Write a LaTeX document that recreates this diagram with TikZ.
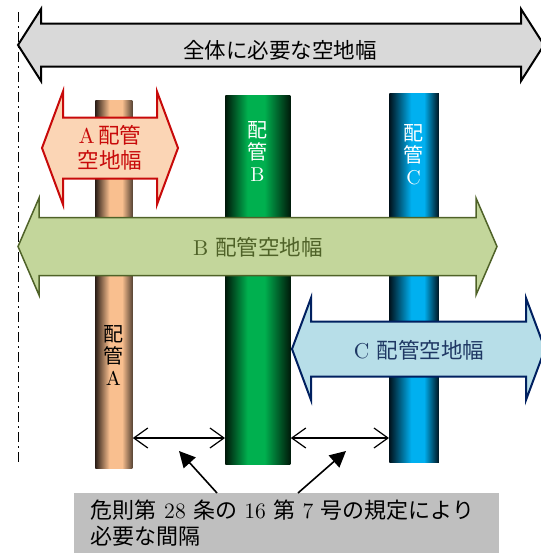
\documentclass[tikz,border=0pt]{standalone}
\usepackage{fontspec}
\usepackage{tikz}
\usetikzlibrary{arrows.meta,calc}
\usepackage{xcolor}

\newfontfamily\jpfont{Noto Sans CJK JP}
\newcommand{\jp}[1]{{\jpfont #1}}

\definecolor{totalfill}{HTML}{D9D9D9}
\definecolor{Afill}{HTML}{FBD5B5}
\definecolor{Aline}{HTML}{C80A0A}
\definecolor{Bfill}{HTML}{C3D69B}
\definecolor{Bline}{HTML}{4F6228}
\definecolor{Cfill}{HTML}{B7DEE8}
\definecolor{Cline}{HTML}{002060}
\definecolor{Ctext}{HTML}{1F3864}
\definecolor{pipeAdark}{HTML}{2E2018}
\definecolor{pipeAedge}{HTML}{5A4636}
\definecolor{pipeAlight}{HTML}{F9BF8F}
\definecolor{pipeBdark}{HTML}{001A0A}
\definecolor{pipeBlight}{HTML}{00B04F}
\definecolor{pipeCdark}{HTML}{00131E}
\definecolor{pipeClight}{HTML}{00B0F0}
\definecolor{notefill}{HTML}{BFBFBF}

% pipe shadings (the middle 50bp is stretched over the pipe)
\pgfdeclarehorizontalshading{pipeAshade}{100bp}{color(0bp)=(pipeAdark); color(25bp)=(pipeAdark);
  color(44bp)=(pipeAlight); color(61bp)=(pipeAlight); color(75bp)=(pipeAedge); color(100bp)=(pipeAedge)}
\pgfdeclarehorizontalshading{pipeBshade}{100bp}{color(0bp)=(pipeBdark); color(25bp)=(pipeBdark);
  color(42bp)=(pipeBlight); color(55bp)=(pipeBlight); color(75bp)=(pipeBdark); color(100bp)=(pipeBdark)}
\pgfdeclarehorizontalshading{pipeCshade}{100bp}{color(0bp)=(pipeCdark); color(25bp)=(pipeCdark);
  color(47bp)=(pipeClight); color(60bp)=(pipeClight); color(75bp)=(pipeCdark); color(100bp)=(pipeCdark)}

% space arrow: style, left tip x, right tip x, mid y, half shaft, half head, head length
\newcommand{\spacearrow}[7]{%
  \draw[#1] (#2,#4) -- ++(#7,-#6) -- ++(0,{#6-#5}) -- ({#3-#7},{#4-#5})
    -- ++(0,{#5-#6}) -- (#3,#4) -- ++(-#7,#6) -- ++(0,{#5-#6})
    -- ({#2+#7},{#4+#5}) -- ++(0,{#6-#5}) -- cycle;}

\begin{document}
\begin{tikzpicture}[
    x=0.5pt, y=-0.5pt,
    pipe/.style={rectangle, shade, inner sep=0pt, anchor=north west},
    lbl/.style={font=\fontsize{10.75}{12}\selectfont, inner sep=0pt, align=center},
    pipelbl/.style={font=\fontsize{10}{11}\selectfont, inner sep=0pt, align=center},
    edgeline/.style={line width=0.5pt, dash pattern=on 5pt off 2pt on 1pt off 2pt},
    gaparrow/.style={{Straight Barb[length=7pt,width=10pt]}-{Straight Barb[length=7pt,width=10pt]}, line width=0.6pt},
    pointer/.style={-{Triangle[length=8pt,width=8pt]}, line width=0.8pt},
    note/.style={rectangle, fill=notefill, anchor=north west, minimum width=212.5pt, minimum height=30pt,
      text width=196pt, inner xsep=8pt, align=left, font=\fontsize{11}{13}\selectfont}
]
\useasboundingbox (0,0) rectangle (541,553);

% pipes
\node[pipe, shading=pipeAshade, minimum width=18.5pt, minimum height=184pt] (pipeA) at (95,100) {};
\node[pipe, shading=pipeBshade, minimum width=32.5pt, minimum height=184.5pt] (pipeB) at (225,95) {};
\node[pipe, shading=pipeCshade, minimum width=24.75pt, minimum height=184.5pt] (pipeC) at (389,93) {};

% edge of the site
\coordinate (edgetop) at (18,12);
\coordinate (edgebot) at (18,462);
\draw[edgeline] (edgetop) -- (edgebot);

% space widths
\spacearrow{fill=totalfill, draw=black, line width=1pt}{18}{544}{45}{21.5}{36}{23}
\spacearrow{fill=Afill, draw=Aline, line width=1pt}{42}{178}{148}{30.5}{56.5}{21}
\spacearrow{fill=Bfill, draw=Bline, line width=0.75pt}{18}{497}{246.5}{29}{48.5}{21}
\spacearrow{fill=Cfill, draw=Cline, line width=1pt}{292}{545}{349}{27.5}{51}{19}

\node[lbl] (totaltxt) at (280,50) {\jp{全体に必要な空地幅}};
\node[lbl, text=Aline] (Atxt) at (110,148) {A\,\jp{配管}\\[0.5pt]\jp{空地幅}};
\node[lbl, text=Bline] (Btxt) at (258,247) {B \jp{配管空地幅}};
\node[lbl, text=Ctext] (Ctxt) at (419,350) {C \jp{配管空地幅}};

% pipe names
\node[pipelbl] (Aname) at (113.5,355) {\jp{配}\\\jp{管}\\A};
\node[pipelbl, text=white] (Bname) at (257.5,151) {\jp{配}\\\jp{管}\\B};
\node[pipelbl, text=white] (Cname) at (413.5,155) {\jp{配}\\\jp{管}\\C};

% required gaps
\coordinate (gapy) at (0,438);
\draw[gaparrow] (pipeA.east |- gapy) -- (pipeB.west |- gapy);
\draw[gaparrow] (pipeB.east |- gapy) -- (pipeC.west |- gapy);

% note
\node[note] (note) at (74,493) {\jp{危則第} 28 \jp{条の} 16 \jp{第} 7 \jp{号の規定により}\\\jp{必要な間隔}};
\coordinate (tipAB) at (179,451);
\coordinate (tipBC) at (346,451);
\draw[pointer] ($(note.north west)+(143,0)$) -- (tipAB);
\draw[pointer] ($(note.north west)+(224,0)$) -- (tipBC);
\end{tikzpicture}
\end{document}
